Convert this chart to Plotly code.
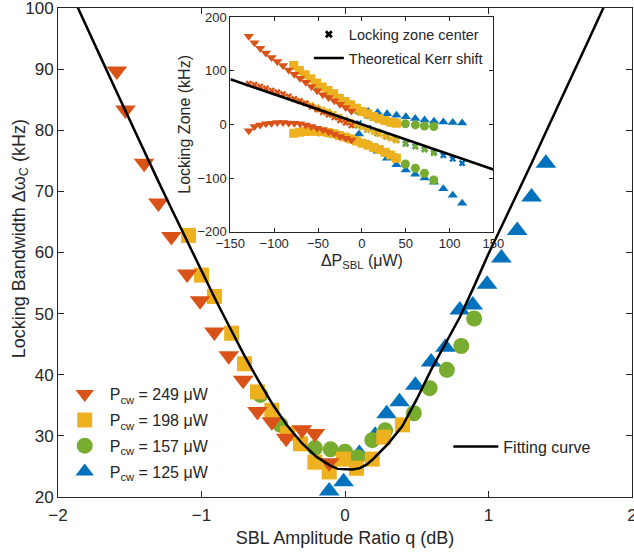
import plotly.graph_objects as go

# ---------------- main plot data (SBL amplitude ratio q [dB] vs locking bandwidth [kHz])
q_249 = [-1.59, -1.53, -1.40, -1.30, -1.21, -1.10, -1.01, -0.91, -0.81, -0.71, -0.61, -0.51, -0.41, -0.30, -0.21, -0.11]
bw_249 = [89.7, 83.3, 74.6, 68.1, 62.6, 56.5, 52.1, 47.0, 43.1, 39.1, 34.0, 32.3, 29.6, 31.0, 30.4, 25.6]

q_198 = [-1.09, -1.00, -0.91, -0.79, -0.70, -0.61, -0.51, -0.40, -0.31, -0.21, -0.11, -0.01, 0.08, 0.19, 0.27, 0.40]
bw_198 = [62.8, 56.3, 52.8, 46.8, 41.8, 37.2, 34.2, 30.4, 28.7, 25.7, 24.1, 26.2, 24.7, 26.2, 29.8, 31.8]

q_157 = [-0.59, -0.45, -0.21, -0.10, 0.00, 0.09, 0.19, 0.28, 0.48, 0.59, 0.71, 0.81, 0.90]
bw_157 = [36.7, 31.8, 28.0, 27.8, 27.4, 26.5, 29.3, 30.9, 33.7, 37.8, 40.8, 44.7, 49.2]

q_125 = [-0.11, -0.01, 0.10, 0.21, 0.29, 0.38, 0.49, 0.60, 0.70, 0.80, 0.89, 0.99, 1.09, 1.20, 1.30, 1.40]
bw_125 = [21.0, 22.5, 27.1, 30.1, 33.6, 35.6, 38.3, 42.1, 44.5, 50.6, 51.4, 54.8, 59.1, 63.6, 69.1, 74.6]

fit_q = [-1.90, -1.86, -1.70, -1.60, -1.50, -1.40, -1.30, -1.20, -1.10, -1.00, -0.90, -0.80, -0.70, -0.60,
         -0.50, -0.40, -0.30, -0.20, -0.10, -0.05, 0.00, 0.05, 0.10, 0.15, 0.20, 0.30, 0.40, 0.50, 0.60, 0.70, 0.80, 0.90,
         1.00, 1.10, 1.20, 1.30, 1.40, 1.50, 1.60, 1.70, 1.80, 1.85]
fit_bw = [102.0, 100.0, 91.8, 86.7, 81.6, 76.6, 71.6, 66.7, 61.8, 56.9, 52.2, 47.6, 43.1, 38.9,
          35.0, 31.6, 28.8, 26.6, 25.1, 24.6, 24.5, 24.5, 24.7, 25.3, 26.3, 28.7, 31.6, 36.0, 40.8, 45.0, 49.4, 54.5,
          59.8, 64.7, 69.6, 74.6, 79.7, 84.7, 89.8, 94.9, 100.0, 102.5]

# ---------------- inset data (delta P_SBL [uW] vs locking zone [kHz])
dp_249 = [-129, -122.5, -116, -109.5, -103, -96.5, -90, -83.5, -77, -70.5, -64, -57.5, -51, -44.5, -38, -31.5, -25, -18.5, -12]
up_249 = [164, 152, 142, 133, 124.5, 117, 109.5, 101.5, 93.5, 86, 78.5, 70.5, 62.5, 55, 50, 44, 37.5, 31.5, 25]
lo_249 = [-12, -4, -1, 1, 2, 3.5, 3.5, 2.5, 2, 1, -1, -4, -7, -10, -13.5, -18, -22.5, -26, -29]
ce_249 = [76, 74, 70.5, 67, 63, 60, 56.5, 52, 47.5, 43.5, 39, 33, 28, 22.5, 18, 13, 7.5, 3, -2]

dp_198 = [-77.7, -71.2, -64.7, -58.2, -51.7, -45.2, -38.7, -32.2, -25.7, -19.2, -12.7, -6.2, 0.3, 6.8, 13.3, 19.8, 26.3, 32.8, 39.3]
up_198 = [109.8, 100.5, 92.4, 84.9, 76.9, 69.4, 63.2, 56.9, 48.8, 42.6, 36.4, 30.2, 24.0, 19.6, 14.6, 10.3, 7.2, 4.1, 2.2]
lo_198 = [-16.5, -14.6, -13.4, -12.8, -12.8, -13.4, -15.2, -17.5, -20.5, -23.5, -27, -31, -35, -39, -43, -47, -52, -57, -63]
ce_198 = [46.6, 43.0, 39.5, 36.0, 32.0, 28.0, 24.0, 19.7, 14.2, 9.5, 4.7, -0.4, -5.5, -9.7, -14.2, -18.4, -22.4, -26.5, -30.4]

dp_157 = [-49, -38, -27, -16, -5, 6, 17, 28, 39, 49.6, 61, 71.3, 81.9]
up_157 = [70, 58, 46, 35, 26, 18, 12, 7, 3, 1, -1, -3, -4]
lo_157 = [-14, -16, -20, -25, -31, -38, -45, -53, -62, -73.7, -81.8, -91.1, -103.6]
ce_157 = [28, 21, 13, 5, -2.5, -10, -16.5, -23, -29.5, -36.4, -41.4, -47, -53.8]

dp_125 = [-3.4, 7.3, 18, 28.7, 39.4, 50.1, 60.8, 71.5, 82.2, 92.9, 103.6, 114.3]
up_125 = [26, 24, 22, 20, 17, 14, 11, 8, 6, 4.5, 3.5, 2.5]
lo_125 = [-18, -37, -50, -63, -75, -85, -93, -100, -108, -120, -132, -147]
ce_125 = [2, -6.5, -14, -21.5, -29, -35.5, -41, -46, -51, -57.8, -64.3, -72.3]

kerr_dp = [-150, 150]
kerr_shift = [84, -84]

labels = ["P<sub>cw</sub> = 249 μW", "P<sub>cw</sub> = 198 μW", "P<sub>cw</sub> = 157 μW", "P<sub>cw</sub> = 125 μW"]

RED, YEL, GRN, BLU = "#D95319", "#EDB120", "#77AC30", "#0072BD"
FONT = "Liberation Sans, Arial, sans-serif"
AX = "#262626"

fig = go.Figure()

# main markers (blue drawn first, red on top)
main_sets = [
    (q_125, bw_125, BLU, "triangle-up", 18, labels[3], 4),
    (q_157, bw_157, GRN, "circle", 16, labels[2], 3),
    (q_198, bw_198, YEL, "square", 15, labels[1], 2),
    (q_249, bw_249, RED, "triangle-down", 18, labels[0], 1),
]
for xs, ys, col, sym, sz, name, rank in main_sets:
    fig.add_trace(go.Scatter(x=xs, y=ys, mode="markers", name=name, legendgroup=name,
                             marker=dict(color=col, symbol=sym, size=sz, line=dict(width=0)),
                             legend="legend", legendrank=rank, xaxis="x", yaxis="y"))

fig.add_trace(go.Scatter(x=fit_q, y=fit_bw, mode="lines", name="Fitting curve",
                         line=dict(color="black", width=2.5),
                         legend="legend2", xaxis="x", yaxis="y"))

# inset markers
inset_sets = [
    (dp_125, up_125, lo_125, ce_125, BLU, "triangle-up"),
    (dp_157, up_157, lo_157, ce_157, GRN, "circle"),
    (dp_198, up_198, lo_198, ce_198, YEL, "square"),
    (dp_249, up_249, lo_249, ce_249, RED, "triangle-down"),
]
for xs, up, lo, ce, col, sym in inset_sets:
    fig.add_trace(go.Scatter(x=xs, y=ce, mode="markers", showlegend=False,
                             marker=dict(color=col, symbol="x", size=6, line=dict(width=0)),
                             xaxis="x2", yaxis="y2"))
    for ys in (up, lo):
        fig.add_trace(go.Scatter(x=xs, y=ys, mode="markers", showlegend=False,
                                 marker=dict(color=col, symbol=sym, size=9, line=dict(width=0)),
                                 xaxis="x2", yaxis="y2"))

fig.add_trace(go.Scatter(x=kerr_dp, y=kerr_shift, mode="lines", name="Theoretical Kerr shift",
                         line=dict(color="black", width=2.5), legend="legend3", legendrank=2,
                         legendgroup="kerr", xaxis="x2", yaxis="y2"))
fig.add_trace(go.Scatter(x=[None], y=[None], mode="markers", name="Locking zone center",
                         marker=dict(color="black", symbol="x", size=7), legendgroup="center",
                         legend="legend3", legendrank=1, xaxis="x2", yaxis="y2"))

axis_common = dict(showline=True, linecolor=AX, linewidth=1, mirror="ticks", ticks="inside",
                   tickcolor=AX, showgrid=False, zeroline=False, color=AX, automargin=False,
                   ticklabeloverflow="allow")

fig.update_layout(
    width=634, height=552,
    margin=dict(l=57.5, r=2, t=7.5, b=54.5),
    paper_bgcolor="white", plot_bgcolor="white",
    font=dict(family=FONT, color=AX, size=16),
    xaxis=dict(domain=[0, 1], range=[-2, 2], tickvals=[-2, -1, 0, 1, 2], ticklen=6,
               tickfont=dict(size=17), ticklabelstandoff=3,
               title=dict(text="SBL Amplitude Ratio q (dB)", font=dict(size=18), standoff=6),
               anchor="y", **axis_common),
    yaxis=dict(domain=[0, 1], range=[20, 100], tickvals=list(range(20, 101, 10)), ticklen=6,
               tickfont=dict(size=17), anchor="x", **axis_common),
    xaxis2=dict(domain=[0.3003, 0.7586], range=[-150, 150], tickvals=[-150, -100, -50, 0, 50, 100, 150], ticklen=4,
                tickfont=dict(size=13), title=dict(text="ΔP<sub>SBL</sub> (μW)", font=dict(size=16), standoff=4),
                anchor="y2", **axis_common),
    yaxis2=dict(domain=[0.5424, 0.9816], range=[-200, 200], tickvals=[-200, -100, 0, 100, 200], ticklen=4,
                tickfont=dict(size=13), title=dict(text="Locking Zone (kHz)", font=dict(size=16), standoff=2),
                anchor="x2", **axis_common),
    legend=dict(x=0.003, y=0.245, xanchor="left", yanchor="top", bgcolor="rgba(0,0,0,0)",
                font=dict(size=16), itemsizing="trace", traceorder="grouped", tracegroupgap=2,
                itemwidth=40),
    legend2=dict(x=0.68, y=0.138, xanchor="left", yanchor="top", bgcolor="rgba(0,0,0,0)",
                 font=dict(size=16), itemwidth=45),
    legend3=dict(x=0.437, y=0.979, xanchor="left", yanchor="top", bgcolor="rgba(0,0,0,0)",
                 font=dict(size=14.5), traceorder="grouped", tracegroupgap=2),
    annotations=[dict(text="Locking Bandwidth Δω<sub>C</sub> (kHz)", textangle=-90,
                      xref="paper", yref="paper", x=-0.0653, y=0.528,
                      xanchor="center", yanchor="middle", showarrow=False,
                      font=dict(size=18, family=FONT, color=AX))],
)

fig.write_html("out.html")
